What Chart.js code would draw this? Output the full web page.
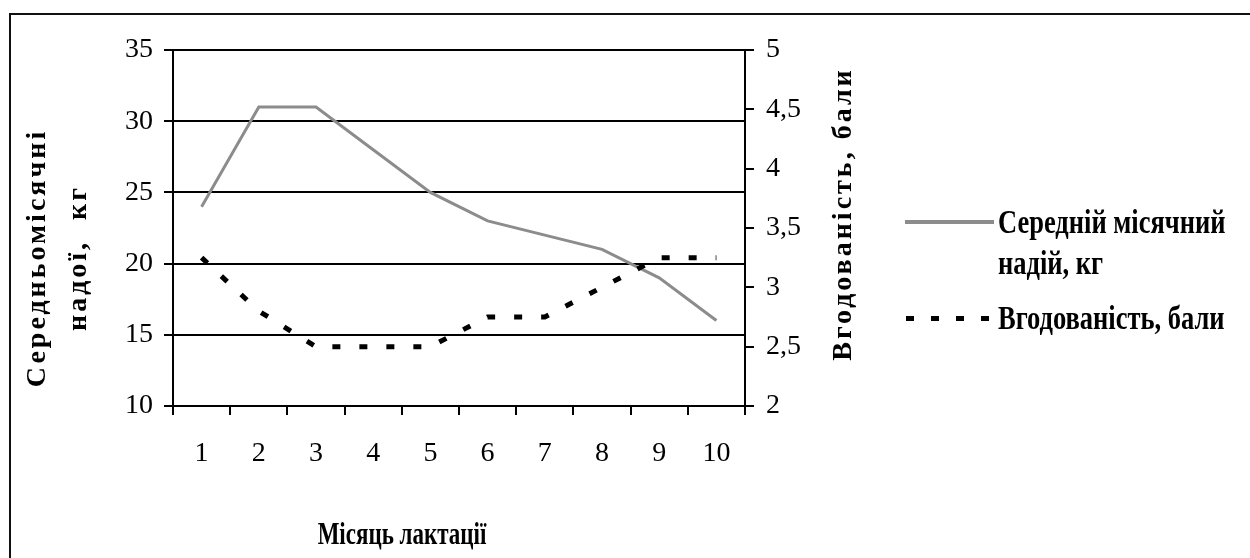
<!DOCTYPE html>
<html>
<head>
<meta charset="utf-8">
<script src="https://cdn.jsdelivr.net/npm/chart.js@4.4.1/dist/chart.umd.min.js"></script>
<style>
  html, body { margin: 0; padding: 0; background: #fff; }
  #wrap { position: relative; width: 1250px; height: 558px; overflow: hidden; background: #fff; }
  #frame { position: absolute; left: 9px; top: 13px; width: 1300px; height: 600px;
           border-left: 2px solid #111; border-top: 2px solid #111; }
  canvas { position: absolute; left: 0; top: 0; }
  .t { position: absolute; font-family: 'Liberation Serif', 'Times New Roman', serif;
       font-weight: bold; color: #000; white-space: nowrap; }
  #ytitle { left: 56px; top: 258px; font-size: 28px; letter-spacing: 3px; line-height: 41px;
            text-align: center; transform: translate(-50%, -50%) rotate(-90deg); }
  #y2title { left: 842px; top: 214px; font-size: 28px; letter-spacing: 3px; line-height: 30px;
             transform: translate(-50%, -50%) rotate(-90deg); }
  #xtitle { left: 402px; top: 534px; font-size: 23px; line-height: 26px;
            transform: translate(-50%, -50%) scaleY(1.4); }
  .leg { left: 998px; font-size: 26.5px; line-height: 31.5px; transform-origin: left center; transform: scaleY(1.3); }
  #sw1 { position: absolute; left: 905px; top: 220px; width: 89px; height: 4px; background: #8c8c8c; }
  #sw2 { position: absolute; left: 906px; top: 316px; width: 88px; height: 5px;
         background: repeating-linear-gradient(to right, #000 0px, #000 8px, transparent 8px, transparent 25px); }
</style>
</head>
<body>
<div id="wrap">
  <canvas id="c" width="1250" height="558"></canvas>
  <div id="frame"></div>
  <div class="t" id="ytitle">Середньомісячні<br>надої,&nbsp; кг</div>
  <div class="t" id="y2title">Вгодованість, бали</div>
  <div class="t" id="xtitle">Місяць лактації</div>
  <div id="sw1"></div>
  <div class="t leg" style="top:211px;">Середній місячний<br>надій, кг</div>
  <div id="sw2"></div>
  <div class="t leg" style="top:302.5px;">Вгодованість, бали</div>
</div>
<script>
// ---- data ----
const months = ['1', '2', '3', '4', '5', '6', '7', '8', '9', '10'];
const milkYield = [24, 31, 31, 28, 25, 23, 22, 21, 19, 16];          // kg, left axis
const bodyCondition = [3.25, 2.8, 2.5, 2.5, 2.5, 2.75, 2.75, 3, 3.25, 3.25]; // points, right axis
const yTicks = [10, 15, 20, 25, 30, 35];
const y2Ticks = [2, 2.5, 3, 3.5, 4, 4.5, 5];
const seriesNames = ['Середній місячний надій, кг', 'Вгодованість, бали'];

const tickFont = { family: "'Liberation Serif', 'Times New Roman', serif", size: 28 };

new Chart(document.getElementById('c'), {
  type: 'line',
  data: {
    labels: months,
    datasets: [
      {
        label: seriesNames[1],
        data: bodyCondition,
        yAxisID: 'y2',
        borderColor: '#000',
        borderWidth: 5,
        borderDash: [8, 19],
        borderCapStyle: 'butt',
        pointRadius: 0,
        tension: 0,
        fill: false,
        order: 0
      },
      {
        label: seriesNames[0],
        data: milkYield,
        yAxisID: 'y',
        borderColor: '#8c8c8c',
        borderWidth: 3,
        pointRadius: 0,
        tension: 0,
        fill: false,
        order: 1
      }
    ]
  },
  options: {
    responsive: false,
    devicePixelRatio: 1,
    animation: false,
    layout: { padding: { top: 50, left: 0, right: 405, bottom: 0 } },
    plugins: { legend: { display: false }, tooltip: { enabled: false }, title: { display: false } },
    scales: {
      x: {
        type: 'category',
        offset: true,
        grid: { offset: true, drawOnChartArea: false, drawTicks: true, tickLength: 9, color: '#000', lineWidth: 2 },
        border: { color: '#000', width: 2 },
        ticks: { color: '#000', font: tickFont, padding: 22, maxRotation: 0, autoSkip: false },
        afterFit: s => { s.height = 152; }
      },
      y: {
        position: 'left',
        min: 10, max: 35,
        afterBuildTicks: s => { s.ticks = yTicks.map(v => ({ value: v })); },
        grid: { color: '#000', lineWidth: 2, drawTicks: true, tickLength: 9 },
        border: { color: '#000', width: 2 },
        ticks: { color: '#000', font: tickFont, padding: 11 },
        afterFit: s => { s.width = 173; }
      },
      y2: {
        position: 'right',
        min: 2, max: 5,
        afterBuildTicks: s => { s.ticks = y2Ticks.map(v => ({ value: v })); },
        grid: { drawOnChartArea: false, color: '#000', lineWidth: 2, drawTicks: true, tickLength: 9 },
        border: { color: '#000', width: 2 },
        ticks: { color: '#000', font: tickFont, padding: 12,
                 callback: v => String(v).replace('.', ',') },
        afterFit: s => { s.width = 100; }
      }
    }
  }
});
</script>
</body>
</html>
